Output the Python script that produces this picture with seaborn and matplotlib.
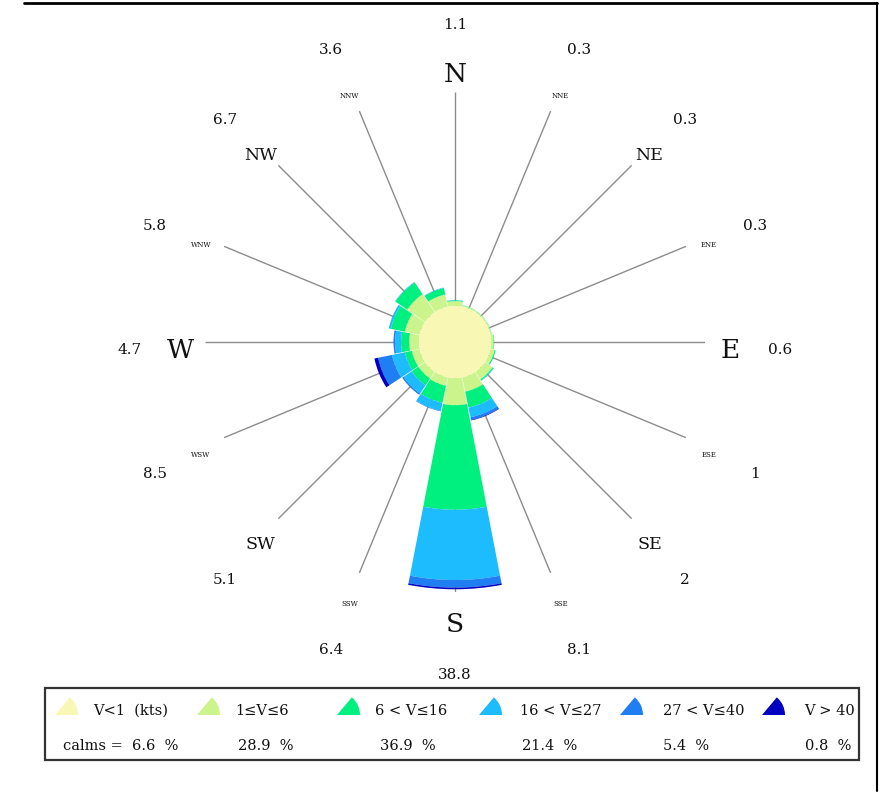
import numpy as np
import matplotlib
matplotlib.use("Agg")
import matplotlib.pyplot as plt
import seaborn as sns
from matplotlib.patches import Wedge, Rectangle

# ---------------- data ----------------
directions = ["N", "NNE", "NE", "ENE", "E", "ESE", "SE", "SSE",
              "S", "SSW", "SW", "WSW", "W", "WNW", "NW", "NNW"]
dir_totals = ["1.1", "0.3", "0.3", "0.3", "0.6", "1", "2", "8.1",
              "38.8", "6.4", "5.1", "8.5", "4.7", "5.8", "6.7", "3.6"]
calm_pct = 6.6
# frequency (%) per direction for each speed class
v_1_6   = [0.9, 0.25, 0.25, 0.25, 0.5, 0.8, 1.7, 2.7, 5.0, 1.6, 1.5, 1.5, 1.8, 2.8, 4.0, 2.3]
v_6_16  = [0.15, 0.05, 0.05, 0.05, 0.1, 0.2, 0.2, 3.0, 19.2, 3.2, 1.5, 1.3, 1.5, 2.6, 2.6, 1.2]
v_16_27 = [0.05, 0, 0, 0, 0, 0, 0.1, 1.8, 12.9, 1.5, 1.8, 2.4, 1.1, 0.4, 0.1, 0.1]
v_27_40 = [0, 0, 0, 0, 0, 0, 0, 0.5, 1.4, 0.1, 0.3, 2.6, 0.3, 0, 0, 0]
v_gt_40 = [0, 0, 0, 0, 0, 0, 0, 0.1, 0.3, 0, 0, 0.7, 0, 0, 0, 0]
speed_bins = [v_1_6, v_6_16, v_16_27, v_27_40, v_gt_40]
legend_labels = ["V<1  (kts)", "1\u2264V\u22646", "6 < V\u226416",
                 "16 < V\u226427", "27 < V\u226440", "V > 40"]
legend_pcts = ["calms =  6.6  %", "28.9  %", "36.9  %", "21.4  %", "5.4  %", "0.8  %"]

colors = ["#F9F7B4", "#CBF58C", "#00F080", "#1CBCFF", "#1E7EF2", "#0000C0"]

# ---------------- figure ----------------
sns.set_style("white")
plt.rcParams["font.family"] = ["DejaVu Serif"]

W, H = 892, 794
fig = plt.figure(figsize=(W / 100, H / 100), dpi=100)

# overlay axes in pixel coordinates (legend, frame)
ax2 = fig.add_axes([0, 0, 1, 1])
ax2.set_xlim(0, W)
ax2.set_ylim(H, 0)
ax2.axis("off")

cx, cy, Rpx = 455, 342, 250
ax = fig.add_axes([(cx - Rpx) / W, (H - cy - Rpx) / H, 2 * Rpx / W, 2 * Rpx / H],
                  projection="polar")
ax.set_theta_zero_location("N")
ax.set_theta_direction(-1)
rmax = 45.9
ax.set_ylim(0, rmax)
ax.set_axis_off()
unit = Rpx / rmax  # px per radial unit

theta = np.deg2rad(np.arange(len(directions)) * 22.5)
width = np.deg2rad(22.5) * 0.97

for t in theta:
    ax.plot([t, t], [0, rmax], color="#8c8c8c", lw=1.0, zorder=1, solid_capstyle="butt")

bottom = np.full(len(directions), calm_pct, dtype=float)
for vals, col in zip(speed_bins, colors[1:]):
    vals = np.asarray(vals, dtype=float)
    ax.bar(theta, vals, width=width, bottom=bottom, color=col,
           edgecolor="none", linewidth=0, zorder=3, align="center")
    bottom += vals

ax.bar(0, calm_pct, width=2 * np.pi, bottom=0, color=colors[0],
       edgecolor="none", linewidth=0, zorder=4)

# direction labels
big = {"N", "E", "S", "W"}
mid = {"NE", "SE", "SW", "NW"}
off = -8 * 0.72
for t, d, tot in zip(theta, directions, dir_totals):
    if d in big:
        fs = 19
    elif d in mid:
        fs = 12.5
    else:
        fs = 5
    ax.annotate(d, xy=(t, 275 / unit), xytext=(0, off), textcoords="offset points",
                ha="center", va="center", fontsize=fs, color="#111111",
                annotation_clip=False)
    ax.annotate(tot, xy=(t, 325 / unit), xytext=(0, off), textcoords="offset points",
                ha="center", va="center", fontsize=11, color="#111111",
                annotation_clip=False)

# legend box
ax2.add_patch(Rectangle((45, 688), 814, 72, fill=False, edgecolor="#333333", lw=1.6))
icon_x = [55, 197, 337, 479, 620, 762]
text_x = [93, 235, 375, 520, 663, 804]
pct_x = [63, 238, 380, 522, 663, 805]
for ix, tx, px, lab, pct, col in zip(icon_x, text_x, pct_x, legend_labels, legend_pcts, colors):
    ax2.add_patch(Wedge((ix, 715), 23, -50, 0, facecolor=col, edgecolor="none"))
    ax2.text(tx, 711, lab, ha="left", va="center", fontsize=10.5, color="#111111")
    ax2.text(px, 746, pct, ha="left", va="center", fontsize=10.5, color="#111111")

# outer frame lines
ax2.plot([24, 877], [3, 3], color="black", lw=2)
ax2.plot([877, 877], [3, 791], color="black", lw=1.5)

fig.savefig("out.png", dpi=100)
